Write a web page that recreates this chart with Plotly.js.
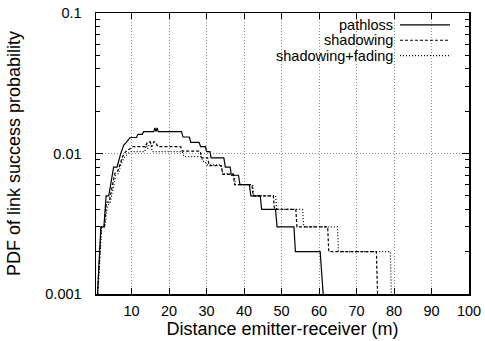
<!DOCTYPE html>
<html>
<head>
<meta charset="utf-8">
<script src="https://cdn.plot.ly/plotly-3.0.1.min.js"></script>
<style>html,body{margin:0;padding:0;background:#fff;}#chart{width:485px;height:341px;}</style>
</head>
<body>
<div id="chart"></div>
<script>
// Series names
var seriesNames = ["pathloss", "shadowing", "shadowing+fading"];

// pathloss: distance (m) / PDF value breakpoints
var pathlossX = [0.9, 1.8, 2.6, 3.2, 3.9, 4.4, 5.2, 6.1, 6.6, 7.1, 7.9, 8.6, 9.6, 11.3, 11.7, 12.8, 13.2, 15.9, 16.2, 16.5, 16.8, 17.1, 23.3, 23.7, 25.4, 25.8, 28.0, 28.4, 29.7, 30.0, 30.9, 31.2, 34.6, 35.0, 36.3, 36.6, 38.5, 38.9, 41.4, 41.8, 44.3, 44.7, 48.4, 48.8, 53.3, 53.7, 60.3, 61.1];
var pathlossY = [0.001, 0.003, 0.003, 0.005, 0.005, 0.006, 0.008, 0.008, 0.009, 0.010, 0.0115, 0.012, 0.013, 0.013, 0.0137, 0.0137, 0.0143, 0.0143, 0.0152, 0.0143, 0.0152, 0.0143, 0.0143, 0.0131, 0.0131, 0.012, 0.012, 0.0112, 0.0112, 0.0103, 0.0103, 0.0093, 0.0093, 0.008, 0.008, 0.007, 0.007, 0.006, 0.006, 0.005, 0.005, 0.004, 0.004, 0.003, 0.003, 0.002, 0.002, 0.001];

// shadowing
var shadowX = [0.9, 1.9, 2.7, 3.3, 4.0, 4.6, 5.5, 6.3, 6.9, 7.6, 8.4, 9.4, 10.4, 13.8, 14.2, 15.0, 15.4, 15.9, 16.3, 17.0, 17.4, 23.1, 23.5, 28.3, 28.7, 30.3, 30.7, 33.9, 34.3, 37.1, 37.5, 42.1, 42.4, 47.8, 48.1, 53.8, 54.1, 62.3, 62.6, 75.3, 75.6];
var shadowY = [0.001, 0.003, 0.003, 0.0045, 0.0045, 0.0055, 0.0072, 0.0075, 0.0085, 0.0095, 0.0103, 0.0108, 0.0112, 0.0112, 0.0121, 0.0121, 0.0112, 0.0121, 0.0121, 0.0112, 0.0112, 0.0112, 0.0104, 0.0104, 0.0093, 0.0093, 0.0082, 0.0082, 0.0071, 0.0071, 0.006, 0.006, 0.005, 0.005, 0.004, 0.004, 0.003, 0.003, 0.002, 0.002, 0.001];

// shadowing+fading
var fadingX = [1.0, 2.0, 2.9, 3.5, 4.3, 4.8, 5.8, 6.5, 7.1, 7.9, 8.7, 9.6, 13.5, 13.9, 14.3, 14.7, 15.1, 15.5, 23.5, 24.0, 28.5, 29.0, 29.6, 30.1, 33.9, 34.3, 37.3, 37.7, 42.3, 42.6, 48.4, 48.7, 55.6, 55.9, 64.9, 65.2, 79.0, 79.3];
var fadingY = [0.001, 0.003, 0.003, 0.0042, 0.0045, 0.0053, 0.007, 0.0072, 0.0083, 0.0093, 0.0098, 0.0103, 0.0103, 0.0117, 0.0108, 0.0117, 0.0117, 0.0103, 0.0103, 0.0095, 0.0095, 0.0088, 0.0088, 0.0083, 0.0083, 0.0072, 0.0072, 0.006, 0.006, 0.005, 0.005, 0.004, 0.004, 0.003, 0.003, 0.002, 0.002, 0.001];

// axis ticks
var xTickVals = [10, 20, 30, 40, 50, 60, 70, 80, 90, 100];
var xTickText = ["10", "20", "30", "40", "50", "60", "70", "80", "90", "100"];
var yTickVals = [0.001, 0.01, 0.1];
var yTickText = ["0.001", "0.01", "0.1"];
var yMinorVals = [0.002, 0.003, 0.004, 0.005, 0.006, 0.007, 0.008, 0.009, 0.02, 0.03, 0.04, 0.05, 0.06, 0.07, 0.08, 0.09];

var dashes = ["solid", "3px,2px", "1px,2px"];
var xs = [pathlossX, shadowX, fadingX];
var ys = [pathlossY, shadowY, fadingY];

var FONT = "Liberation Sans, Arial, Helvetica, sans-serif";

var traces = seriesNames.map(function (n, i) {
  return {
    x: xs[i], y: ys[i], name: n, type: "scatter", mode: "lines",
    line: {color: "#000", width: 1.2, dash: dashes[i], shape: "linear"},
    showlegend: false, hoverinfo: "skip"
  };
});

// custom legend (text left of sample line, as in original)
var legendRowsY = [0.958, 0.903, 0.848];
var annotations = seriesNames.map(function (n, i) {
  return {xref: "paper", yref: "paper", x: 0.802, y: legendRowsY[i], text: n,
    showarrow: false, xanchor: "right", yanchor: "middle",
    font: {family: FONT, size: 14.5, color: "#000"}};
});
var shapes = [{type: "rect", xref: "paper", yref: "paper", x0: 0.46, x1: 0.965, y0: 0.822, y1: 0.997,
  fillcolor: "#fff", line: {width: 0}, layer: "between"}];
seriesNames.forEach(function (n, i) {
  shapes.push({type: "line", xref: "paper", yref: "paper", x0: 0.815, x1: 0.949,
    y0: legendRowsY[i], y1: legendRowsY[i], line: {color: "#000", width: 1.2, dash: dashes[i]}, layer: "above"});
});

var layout = {
  width: 485, height: 341,
  margin: {l: 96, r: 16, t: 13, b: 47},
  paper_bgcolor: "#fff", plot_bgcolor: "#fff",
  font: {family: FONT, size: 14.5, color: "#000"},
  showlegend: false,
  xaxis: {
    range: [0.5, 100], tickmode: "array", tickvals: xTickVals, ticktext: xTickText,
    ticks: "inside", ticklen: 6, tickwidth: 1, tickcolor: "#000",
    showline: true, linecolor: "#000", linewidth: 1.5, mirror: "ticks",
    showgrid: true, gridcolor: "#8a8a8a", griddash: "1px,2px", gridwidth: 1,
    zeroline: false, ticklabelstandoff: 3,
    tickfont: {family: FONT, size: 14.5, color: "#000"},
    title: {text: "Distance emitter-receiver (m)", font: {family: FONT, size: 18, color: "#000"}, standoff: 4}
  },
  yaxis: {
    type: "log", range: [-3, -1], tickmode: "array", tickvals: yTickVals, ticktext: yTickText,
    ticks: "inside", ticklen: 7, tickwidth: 1, tickcolor: "#000",
    minor: {tickmode: "array", tickvals: yMinorVals, ticks: "inside", ticklen: 4, tickwidth: 1, tickcolor: "#000", showgrid: false},
    showline: true, linecolor: "#000", linewidth: 1.5, mirror: "ticks",
    showgrid: true, gridcolor: "#8a8a8a", griddash: "1px,2px", gridwidth: 1,
    zeroline: false, ticklabelstandoff: 10,
    tickfont: {family: FONT, size: 14.5, color: "#000"},
    title: {text: "PDF of link success probability", font: {family: FONT, size: 18, color: "#000"}, standoff: 20}
  },
  annotations: annotations,
  shapes: shapes
};

Plotly.newPlot("chart", traces, layout, {staticPlot: true, displayModeBar: false});
</script>
</body>
</html>
